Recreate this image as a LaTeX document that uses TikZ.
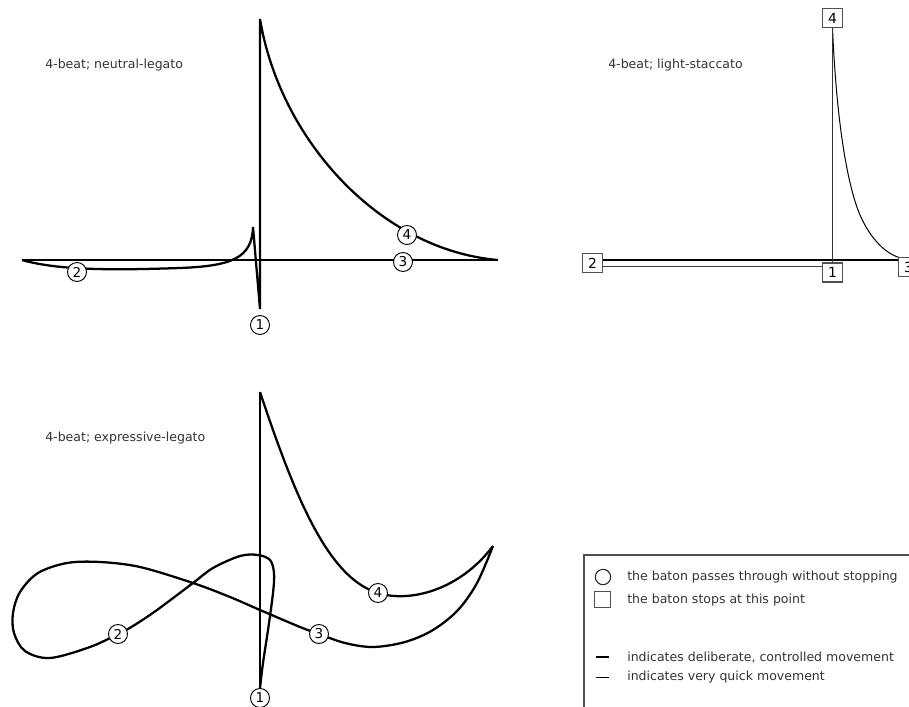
\documentclass[tikz,border=0pt]{standalone}
\usepackage{fontspec}
\setmainfont{DejaVu Sans}
\definecolor{txt}{RGB}{51,51,51}
\definecolor{boxc}{RGB}{80,80,80}
\begin{document}
\begin{tikzpicture}[x=0.75pt,y=-0.75pt,
  heavy/.style={line width=1.7pt, black},
  quick/.style={line width=0.75pt, black},
  circ/.style={circle, draw=black, line width=0.7pt, fill=white, minimum size=14.25pt, inner sep=0pt, font=\fontsize{10.2}{10}\selectfont},
  sq/.style={rectangle, draw=boxc, line width=0.8pt, fill=white, minimum width=14.5pt, minimum height=14.25pt, inner sep=0pt, font=\fontsize{10.4}{10}\selectfont},
  lbl/.style={anchor=west, text=txt, font=\fontsize{9.4}{11}\selectfont, inner sep=0pt}]
\useasboundingbox (0,0) rectangle (909,706);
\clip (0,0) rectangle (909,706);

% ---------- panel 1: neutral-legato ----------
\node[lbl] (t1) at (45,65) {4-beat; neutral-legato};
\coordinate (atop) at (260,19);
\coordinate (abot) at (260,309);
\coordinate (aleft) at (22,260);
\coordinate (aright) at (498,260);
\coordinate (aspike) at (253,227);
\draw[heavy] (aleft) -- (aright);
\draw[heavy] (aleft) .. controls (60,271) and (120,270) .. (180,268)
  .. controls (232,266) and (252,258) .. (aspike) -- (abot) -- (atop)
  .. controls (280,140) and (380,250) .. (aright);
\node[circ] (a1) at (260,325) {1};
\node[circ] (a2) at (77,272) {2};
\node[circ] (a3) at (403,262) {3};
\node[circ] (a4) at (407,235) {4};

% ---------- panel 2: light-staccato ----------
\node[lbl] (t2) at (608,65) {4-beat; light-staccato};
\node[sq] (b4) at (832.5,18) {4};
\node[sq] (b1) at (832.5,272.5) {1};
\node[sq] (b2) at (592.5,263) {2};
\coordinate (hy) at (700,260);
\coordinate (ly) at (700,266.5);
\coordinate (b3top) at (903,258.5);
\draw[line width=0.8pt, black!75] (b2.east |- ly) -- (b1.west |- ly);
\draw[heavy, line width=1.8pt] (b2.east |- hy) -- (902,260);
\draw[quick] (b4.south) .. controls (836,110) and (845,175) .. (858,210)
  .. controls (867,234) and (884,255) .. (b3top);
\node[sq] (b3) at (908.5,267) {3};
\draw[line width=1.2pt, black!80] (b4) -- (b1);

% ---------- panel 3: expressive-legato ----------
\node[lbl] (t3) at (45,438) {4-beat; expressive-legato};
\coordinate (ctop) at (260,392);
\coordinate (cbot) at (260,688);
\coordinate (ctip) at (493,546);
\draw[heavy] (ctop) -- (cbot);
\draw[heavy, line join=round] plot[smooth, tension=0.55] coordinates {
  (260,688) (263,663) (268,630) (273,593) (274,573) (270,560) (258,555) (240,556)
  (213,568) (193,583) (157,610) (133,626) (118,634) (90,647) (50,658) (25,651)
  (14,633) (13,613) (20,592) (38,573) (67,563) (100,562) (140,567) (193,583)
  (230,597) (260,610) (300,627) (319,634) (345,643) (373,647) (405,642)
  (433,630) (458,610) (477,583) (493,546)};
\draw[heavy] (ctip) .. controls (460,590) and (410,603) .. (378,593)
  .. controls (328,578) and (295,497) .. (ctop);
\node[circ] (c1) at (260,698) {1};
\node[circ] (c2) at (118,634) {2};
\node[circ] (c3) at (319,634) {3};
\node[circ] (c4) at (378,593) {4};

% ---------- legend ----------
\draw[line width=1pt, boxc] (584,720) -- (584,555) -- (930,555);
\node[circle, draw=black!85, line width=0.8pt, minimum size=11.5pt, inner sep=0pt] (kc) at (603,577) {};
\node[lbl] (kct) at (627,577) {the baton passes through without stopping};
\node[rectangle, draw=boxc, line width=0.8pt, minimum size=11.5pt, inner sep=0pt] (ks) at (602.5,599.5) {};
\node[lbl] (kst) at (627,600) {the baton stops at this point};
\coordinate (kh1) at (596,657);
\coordinate (kh2) at (609,657);
\draw[heavy] (kh1) -- (kh2);
\node[lbl] (kht) at (627,657) {indicates deliberate, controlled movement};
\coordinate (kq1) at (596,677);
\coordinate (kq2) at (609,677);
\draw[quick] (kq1) -- (kq2);
\node[lbl] (kqt) at (627,677) {indicates very quick movement};
\end{tikzpicture}
\end{document}
